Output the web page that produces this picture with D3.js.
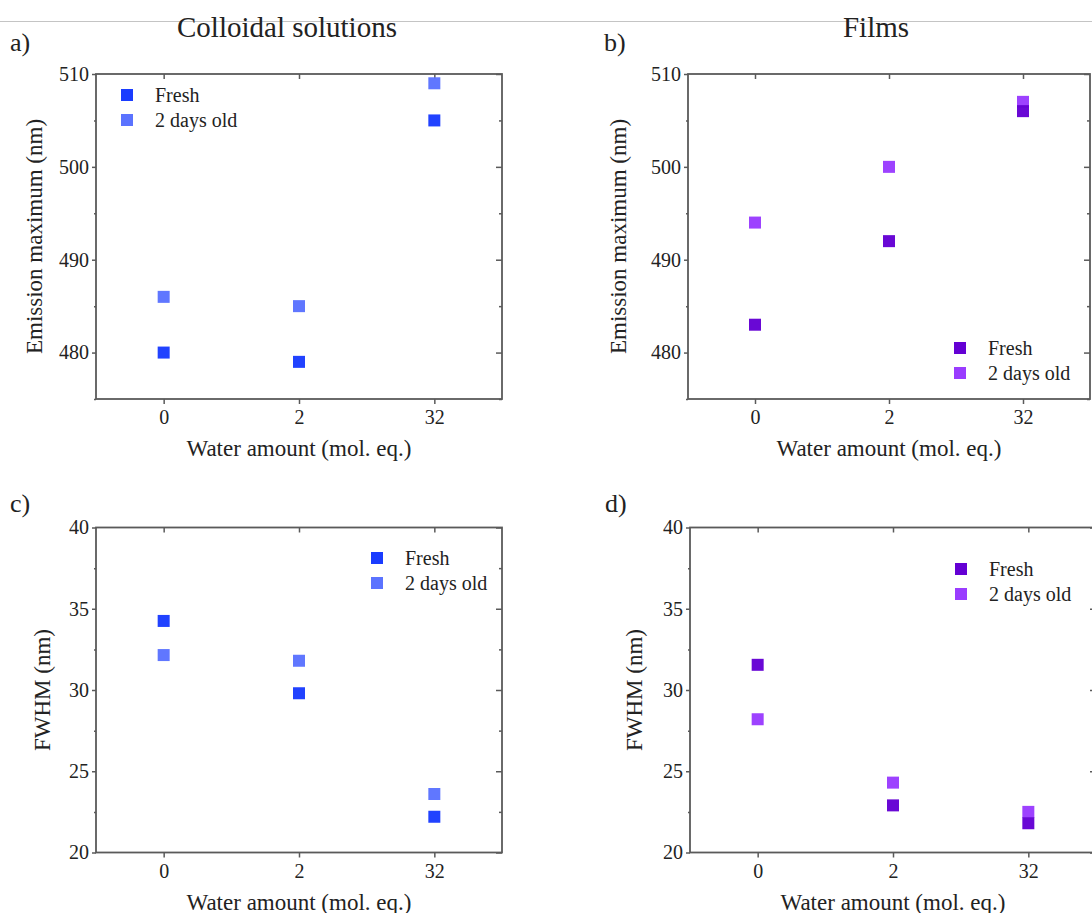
<!DOCTYPE html>
<html><head><meta charset="utf-8">
<script src="https://cdn.jsdelivr.net/npm/d3@7"></script>
<style>
html,body{margin:0;padding:0;background:#fff;overflow:hidden;}
svg{display:block;font-family:"Liberation Serif","Times New Roman",serif;}
</style></head>
<body>
<svg id="chart" width="1092" height="913"></svg>
<script>
// ---- data ----
const categories = ["0", "2", "32"];
const seriesNames = ["Fresh", "2 days old"];
const colloidEmFresh = [480, 479, 505];
const colloidEmOld = [486, 485, 509];
const filmEmFresh = [483, 492, 506];
const filmEmOld = [494, 500, 507];
const colloidFwhmFresh = [34.25, 29.8, 22.2];
const colloidFwhmOld = [32.15, 31.8, 23.6];
const filmFwhmFresh = [31.55, 22.9, 21.8];
const filmFwhmOld = [28.2, 24.3, 22.5];
const emTicks = [480, 490, 500, 510];
const emMinor = [475, 485, 495, 505];
const fwhmTicks = [20, 25, 30, 35, 40];
const fwhmMinor = [22.5, 27.5, 32.5, 37.5];
const blueColors = ["#1a3cff", "#5b73ff"];
const purpleColors = ["#6400d4", "#9a3cff"];

const svg = d3.select("#chart");
const txt = "#222";
const axisCol = "#5a5a5a";

// top grey rule
svg.append("line").attr("x1",0).attr("x2",1092).attr("y1",21.5).attr("y2",21.5)
  .attr("stroke","#c4c4c4").attr("stroke-width",1);

// column titles
svg.append("text").attr("x",287).attr("y",37).attr("text-anchor","middle")
  .attr("font-size",29).attr("fill",txt).text("Colloidal solutions");
svg.append("text").attr("x",876).attr("y",37).attr("text-anchor","middle")
  .attr("font-size",29).attr("fill",txt).text("Films");

function panel(opt){
  const {left, top, width, height, yDomain, yTicks, yMinor, fresh, old, colors,
         ylabel, ylabelX, letter, letterX, letterY, legendX, legendY} = opt;
  const g = svg.append("g");
  const x = d3.scalePoint().domain(categories).range([left, left+width]).padding(0.5);
  const y = d3.scaleLinear().domain(yDomain).range([top+height, top]);

  // left axis
  const gl = g.append("g").attr("transform",`translate(${left},0)`)
    .call(d3.axisLeft(y).tickValues(yTicks).tickSize(4).tickPadding(3).tickFormat(d3.format("d")));
  gl.append("g").call(d3.axisLeft(y).tickValues(yMinor).tickSize(2).tickFormat(""));
  // right axis (inward)
  const gr = g.append("g").attr("transform",`translate(${left+width},0)`)
    .call(d3.axisLeft(y).tickValues(yTicks).tickSize(6).tickFormat(""));
  gr.append("g").call(d3.axisLeft(y).tickValues(yMinor).tickSize(3).tickFormat(""));
  // bottom axis
  const gb = g.append("g").attr("transform",`translate(0,${top+height})`)
    .call(d3.axisBottom(x).tickSize(5).tickPadding(6));
  // top axis (inward)
  const gt = g.append("g").attr("transform",`translate(0,${top})`)
    .call(d3.axisBottom(x).tickSize(5).tickFormat(""));

  [gl, gr, gb, gt].forEach(a => {
    a.selectAll("path.domain").remove();
    a.selectAll("line").attr("stroke",axisCol).attr("stroke-width",1.5);
    a.selectAll("text").attr("font-size",20).attr("fill",txt)
      .attr("font-family","Liberation Serif, Times New Roman, serif");
  });
  // frame
  g.append("rect").attr("x",left).attr("y",top).attr("width",width).attr("height",height)
    .attr("fill","none").attr("stroke",axisCol).attr("stroke-width",1.8);

  // markers
  const ms = 12;
  [old, fresh].forEach((vals, k) => {
    const col = k===0 ? colors[1] : colors[0];
    g.selectAll(null).data(vals).enter().append("rect")
      .attr("x",(d,i)=>x(categories[i])-ms/2)
      .attr("y",d=>y(d)-ms/2)
      .attr("width",ms).attr("height",ms)
      .attr("fill",col).attr("fill-opacity",0.97);
  });

  // axis titles
  g.append("text").attr("x",left+width/2).attr("y",top+height+57).attr("text-anchor","middle")
    .attr("font-size",23).attr("fill",txt).text("Water amount (mol. eq.)");
  g.append("text").attr("transform",`translate(${ylabelX},${top+height/2}) rotate(-90)`)
    .attr("text-anchor","middle").attr("font-size",23).attr("fill",txt).text(ylabel);

  // panel letter
  g.append("text").attr("x",letterX).attr("y",letterY).attr("font-size",26)
    .attr("fill",txt).text(letter);

  // legend
  seriesNames.forEach((n,i)=>{
    const yy = legendY + i*25;
    g.append("rect").attr("x",legendX-6).attr("y",yy-6).attr("width",12).attr("height",12)
      .attr("fill",colors[i]);
    g.append("text").attr("x",legendX+28).attr("y",yy+6.5).attr("font-size",20)
      .attr("fill",txt).text(n);
  });
}

panel({left:96, top:74, width:406, height:325, yDomain:[475,510], yTicks:emTicks, yMinor:emMinor,
  fresh:colloidEmFresh, old:colloidEmOld, colors:blueColors, ylabel:"Emission maximum (nm)",
  ylabelX:42, letter:"a)", letterX:10, letterY:51, legendX:127, legendY:95});
panel({left:688, top:74, width:402, height:325, yDomain:[475,510], yTicks:emTicks, yMinor:emMinor,
  fresh:filmEmFresh, old:filmEmOld, colors:purpleColors, ylabel:"Emission maximum (nm)",
  ylabelX:626, letter:"b)", letterX:604, letterY:51, legendX:960, legendY:348});
panel({left:96, top:527.5, width:406, height:325, yDomain:[20,40], yTicks:fwhmTicks, yMinor:fwhmMinor,
  fresh:colloidFwhmFresh, old:colloidFwhmOld, colors:blueColors, ylabel:"FWHM (nm)",
  ylabelX:50, letter:"c)", letterX:10, letterY:512, legendX:377, legendY:558});
panel({left:690, top:527.5, width:406, height:325, yDomain:[20,40], yTicks:fwhmTicks, yMinor:fwhmMinor,
  fresh:filmFwhmFresh, old:filmFwhmOld, colors:purpleColors, ylabel:"FWHM (nm)",
  ylabelX:642, letter:"d)", letterX:605, letterY:512, legendX:961, legendY:569});
</script>
</body></html>
